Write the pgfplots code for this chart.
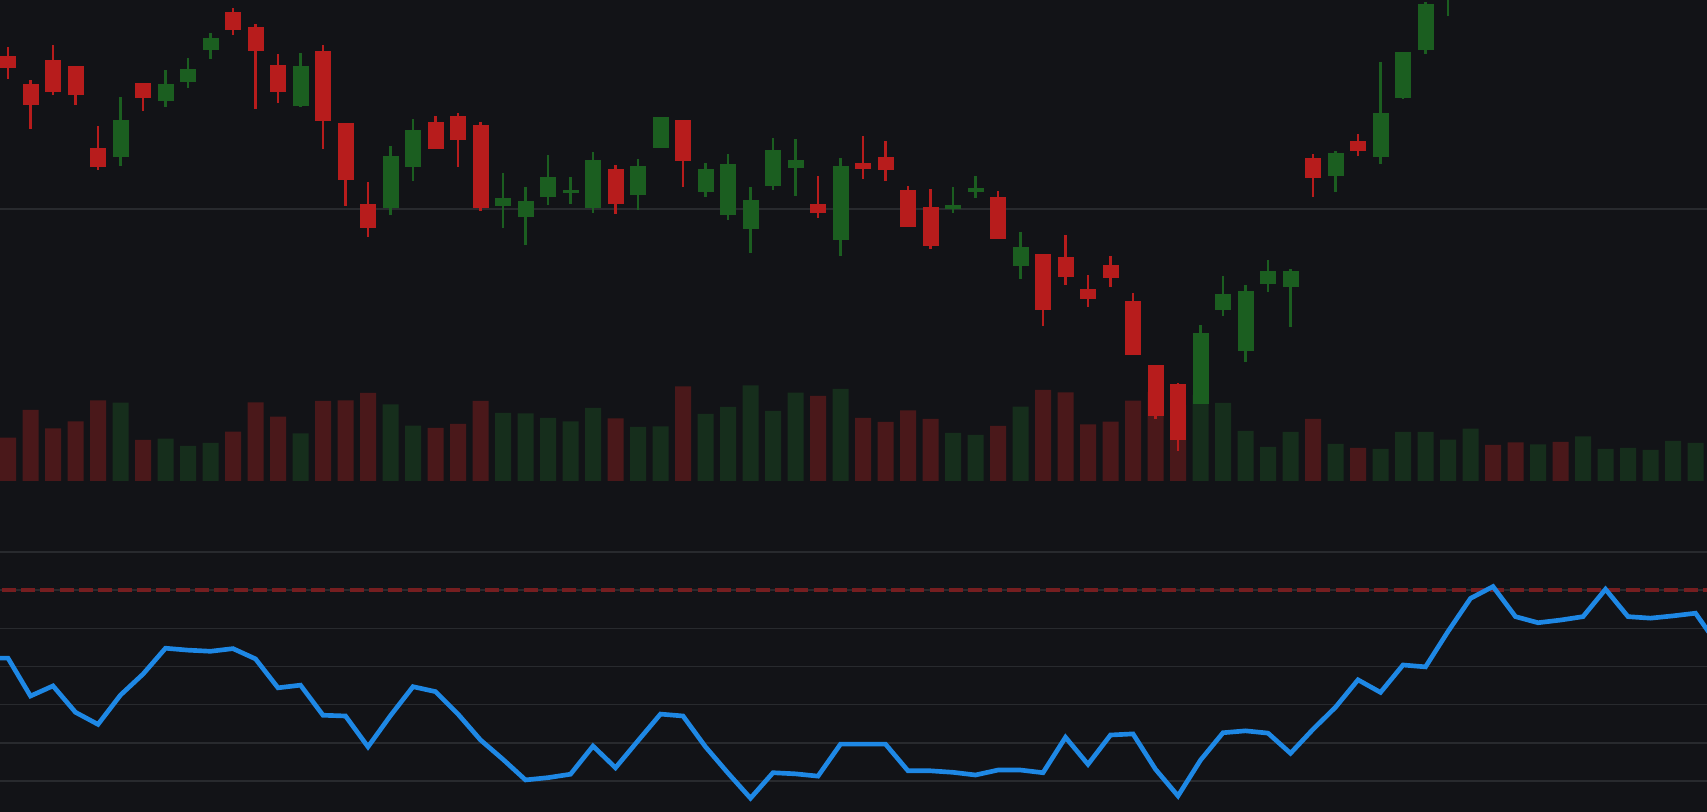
\documentclass[border=0pt]{standalone}
\usepackage{pgfplots}
\pgfplotsset{compat=1.18}
\usepackage{pgfplotstable}
\definecolor{bg}{RGB}{18,19,23}
\definecolor{gridc}{RGB}{40,42,46}
\definecolor{cred}{RGB}{183,28,28}
\definecolor{cgreen}{RGB}{27,94,32}
\definecolor{vred}{RGB}{74,24,26}
\definecolor{vgreen}{RGB}{22,46,28}
\definecolor{rsiblue}{RGB}{30,136,229}
\definecolor{dashred}{RGB}{118,30,32}

% red candles: index open high low close
\pgfplotstableread{
i o h l c
0 115.3 116.2 113.0 114.13
1 112.5 112.9 108.0 110.43
2 114.9 116.4 111.4 111.73
3 114.3 114.3 110.4 111.43
4 106.1 108.3 103.9 104.23
6 112.6 112.6 109.8 111.13
10 119.7 120.1 117.4 117.93
11 118.2 118.5 110.0 115.83
12 114.4 115.5 110.6 111.73
14 115.8 116.4 106.0 108.83
15 108.6 108.6 100.33 102.93
16 100.5 102.7 97.2 98.13
19 108.7 109.3 106.03 106.03
20 109.3 109.6 104.2 106.93
21 108.4 108.7 99.83 100.13
27 104.0 104.4 99.53 100.53
30 108.9 108.9 102.23 104.83
36 100.5 103.3 99.13 99.63
38 104.6 107.3 103.03 104.03
39 105.2 106.8 102.83 103.93
40 101.9 102.3 98.23 98.23
41 100.2 102.0 96.03 96.33
44 101.2 101.8 97.03 97.03
46 95.5 95.5 88.33 89.93
47 95.2 97.4 92.43 93.23
48 92.0 93.4 90.23 91.03
49 94.4 95.3 92.23 93.13
50 90.8 91.6 85.43 85.43
51 84.4 84.4 79.03 79.33
52 82.5 82.6 75.83 76.93
58 105.1 105.5 101.23 103.13
60 106.8 107.5 105.33 105.83
}\redcandles

% green candles: index open high low close
\pgfplotstableread{
i o h l c
5 105.23 111.2 104.3 108.9
7 110.83 113.9 110.2 112.5
8 112.73 115.1 112.1 114.0
9 115.9 117.6 115.0 117.1
13 110.3 115.6 110.2 114.3
17 100.13 106.3 99.4 105.3
18 104.23 109.0 102.8 107.9
22 100.33 103.6 98.13 101.1
23 99.23 102.2 96.43 100.8
24 101.23 105.4 100.43 103.2
25 101.63 103.2 100.53 101.9
26 100.13 105.7 99.63 104.9
28 101.43 105.0 99.93 104.3
29 106.13 109.2 106.13 109.2
31 101.73 104.6 101.23 104.0
32 99.43 105.5 98.93 104.5
33 98.03 102.2 95.63 100.9
34 102.33 107.1 101.93 105.9
35 104.13 107.0 101.33 104.9
37 96.93 105.1 95.33 104.3
42 100.03 102.2 99.63 100.4
43 101.67 103.3 101.13 102.1
45 94.33 97.7 93.03 96.2
53 80.5 88.4 80.5 87.6
54 89.93 93.3 89.33 91.5
55 85.83 92.4 84.73 91.8
56 92.53 94.9 91.73 93.8
57 92.23 94.0 88.23 93.8
59 103.33 105.8 101.73 105.6
61 105.23 114.7 104.53 109.6
62 111.13 115.7 111.03 115.7
63 115.93 120.7 115.53 120.5
64 121.4 126.9 119.33 125.9
}\greencandles

\pgfplotstableread{
i v
0 866
1 1420
2 1054
3 1194
4 1614
6 820
10 986
11 1574
12 1286
14 1600
15 1614
16 1760
19 1060
20 1140
21 1600
27 1254
30 1894
36 1700
38 1260
39 1180
40 1414
41 1240
44 1100
46 1820
47 1774
48 1134
49 1186
50 1606
51 1780
52 1520
58 1240
60 660
66 720
67 774
69 780
}\redvol

\pgfplotstableread{
i v
5 1566
7 846
8 700
9 760
13 954
17 1534
18 1106
22 1360
23 1354
24 1260
25 1194
26 1460
28 1080
29 1094
31 1340
32 1480
33 1914
34 1400
35 1766
37 1840
42 960
43 920
45 1486
53 1720
54 1560
55 1000
56 680
57 980
59 740
61 640
62 980
63 980
64 826
65 1046
68 734
70 894
71 640
72 660
73 620
74 800
75 760
}\greenvol

\pgfplotstableread{
i r
-1 52.2
0 52.2
1 42.25
2 44.9
3 37.97
4 34.8
5 42.5
6 48.0
7 54.8
8 54.3
9 54.0
10 54.7
11 52.0
12 44.4
13 45.1
14 37.2
15 37.0
16 28.9
17 37.1
18 44.7
19 43.4
20 37.5
21 30.7
22 25.6
23 20.2
24 20.8
25 21.7
26 29.1
27 23.4
28 30.5
29 37.5
30 37.0
31 28.9
32 22.0
33 15.4
34 22.1
35 21.8
36 21.2
37 29.6
38 29.6
39 29.6
40 22.6
41 22.6
42 22.2
43 21.5
44 22.8
45 22.8
46 22.1
47 31.4
48 24.3
49 32.0
50 32.3
51 23.0
52 16.0
53 25.4
54 32.6
55 33.1
56 32.5
57 27.2
58 33.5
59 39.3
60 46.5
61 43.2
62 50.4
63 49.9
64 59.2
65 67.9
66 71.0
67 63.1
68 61.5
69 62.2
70 63.1
71 70.3
72 63.1
73 62.7
74 63.3
75 64.0
76 55.6
}\rsi

\begin{document}
\begin{tikzpicture}
\fill[bg] (0pt,0pt) rectangle (512.1pt,243.6pt);
\useasboundingbox (0pt,0pt) rectangle (512.1pt,243.6pt);
\pgfplotsset{
  panel/.style={
    scale only axis, width=512.1pt,
    xmin=-0.35556, xmax=75.5111,
    axis line style={draw=none}, tick style={draw=none},
    xtick=\empty, yticklabels={},
    clip=true,
    grid style={draw=gridc, line width=0.55pt},
  },
  body/.style={draw=none, mark=none, forget plot,
    mark options={draw=none, fill=none},
    error bars/y dir=both, error bars/y explicit, error bars/error mark=none,
    error bars/error bar style={draw=#1, line width=4.8pt, line cap=butt}},
  wick/.style={draw=none, mark=none, forget plot,
    mark options={draw=none, fill=none},
    error bars/y dir=both, error bars/y explicit, error bars/error mark=none,
    error bars/error bar style={draw=#1, line width=0.65pt, line cap=butt}},
}
% volume panel
\begin{axis}[panel, at={(0pt,99.3pt)}, anchor=south west, height=144.3pt,
  ymin=0, ymax=9620, ytick=\empty]
\addplot[ybar, bar width=4.8pt, bar shift=0pt, draw=none, fill=vred] table[x=i,y=v] {\redvol};
\addplot[ybar, bar width=4.8pt, bar shift=0pt, draw=none, fill=vgreen] table[x=i,y=v] {\greenvol};
\end{axis}
% price panel
\begin{axis}[panel, at={(0pt,99.3pt)}, anchor=south west, height=144.3pt,
  ymin=72.8, ymax=120.9, ytick={100}, ymajorgrids]
\addplot[wick=cred] table[x=i, y expr={(\thisrow{h}+\thisrow{l})/2}, y error expr={(\thisrow{h}-\thisrow{l})/2}] {\redcandles};
\addplot[body=cred] table[x=i, y expr={(\thisrow{o}+\thisrow{c})/2}, y error expr={abs(\thisrow{o}-\thisrow{c})/2}] {\redcandles};
\addplot[wick=cgreen] table[x=i, y expr={(\thisrow{h}+\thisrow{l})/2}, y error expr={(\thisrow{h}-\thisrow{l})/2}] {\greencandles};
\addplot[body=cgreen] table[x=i, y expr={(\thisrow{o}+\thisrow{c})/2}, y error expr={abs(\thisrow{o}-\thisrow{c})/2}] {\greencandles};
\end{axis}
% RSI panel
\begin{axis}[panel, at={(0pt,0pt)}, anchor=south west, height=99.3pt,
  ymin=11.78, ymax=98.73, ytick={20,30,40,50,60,70,80}, ymajorgrids]
\addplot[draw=dashred, line width=1.2pt, dash pattern=on 4.2pt off 1.6pt, dash phase=5.3pt] coordinates {(-0.35556,70) (75.5111,70)};
\addplot[draw=rsiblue, line width=1.4pt, line join=miter, mark=none] table[x=i,y=r] {\rsi};
\end{axis}
\end{tikzpicture}
\end{document}
